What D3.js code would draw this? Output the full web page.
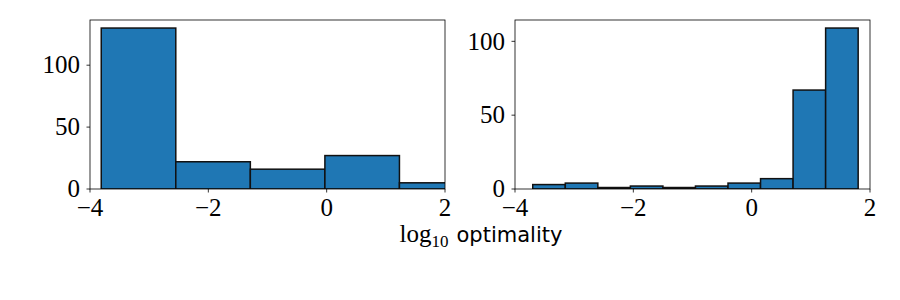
<!DOCTYPE html>
<html><head><meta charset="utf-8">
<script src="https://cdn.jsdelivr.net/npm/d3@7"></script>
<style>body{margin:0;background:#fff}svg{display:block}</style>
</head><body>
<script>
const leftEdges = [-3.81, -2.55, -1.29, -0.03, 1.23, 2.49];
const leftCounts = [130, 22, 16, 27, 5];
const rightEdges = [-3.70, -3.15, -2.60, -2.05, -1.50, -0.95, -0.40, 0.15, 0.70, 1.25, 1.80];
const rightCounts = [3, 4, 1, 2, 1, 2, 4, 7, 67, 109];
const xTicks = [-4, -2, 0, 2];
const yTicks = [0, 50, 100];
const xLabelMain = "log";
const xLabelSub = "10";
const xLabelWord = "optimality";

const svg = d3.select("body").append("svg").attr("width", 900).attr("height", 300);
const serif = "'Liberation Serif', 'DejaVu Serif', serif";
const fs = 25;

function panel(id, x0, x1, y0, y1, edges, counts) {
  const x = d3.scaleLinear().domain([-4, 2]).range([x0, x1]);
  const ymax = d3.max(counts) * 1.05;
  const y = d3.scaleLinear().domain([0, ymax]).range([y1, y0]);
  svg.append("clipPath").attr("id", id).append("rect")
    .attr("x", x0).attr("y", y0).attr("width", x1 - x0).attr("height", y1 - y0);
  const bins = counts.map((c, i) => ({a: edges[i], b: edges[i + 1], c}));
  svg.append("g").attr("clip-path", `url(#${id})`).selectAll("rect").data(bins).join("rect")
    .attr("x", d => x(d.a)).attr("width", d => x(d.b) - x(d.a))
    .attr("y", d => y(d.c)).attr("height", d => y(0) - y(d.c))
    .attr("fill", "#1f77b4").attr("stroke", "#111").attr("stroke-width", 1.5);
  svg.append("rect").attr("x", x0).attr("y", y0).attr("width", x1 - x0).attr("height", y1 - y0)
    .attr("fill", "none").attr("stroke", "#000").attr("stroke-width", 0.8);
  const gx = svg.append("g");
  xTicks.forEach(t => {
    gx.append("line").attr("x1", x(t)).attr("x2", x(t)).attr("y1", y1).attr("y2", y1 + 3.5)
      .attr("stroke", "#000").attr("stroke-width", 0.8);
    gx.append("text").attr("x", x(t)).attr("y", y1 + 27).attr("text-anchor", "middle")
      .attr("font-family", serif).attr("font-size", fs)
      .text(t < 0 ? "\u2212" + Math.abs(t) : String(t));
  });
  const gy = svg.append("g");
  yTicks.forEach(t => {
    gy.append("line").attr("x1", x0 - 3.5).attr("x2", x0).attr("y1", y(t)).attr("y2", y(t))
      .attr("stroke", "#000").attr("stroke-width", 0.8);
    gy.append("text").attr("x", x0 - 10).attr("y", y(t)).attr("dy", "0.33em").attr("text-anchor", "end")
      .attr("font-family", serif).attr("font-size", fs).text(String(t));
  });
}

panel("c1", 90, 445, 20, 189, leftEdges, leftCounts);
panel("c2", 515, 870, 20, 189, rightEdges, rightCounts);

const lab = svg.append("text").attr("x", 481).attr("y", 242).attr("text-anchor", "middle");
lab.append("tspan").attr("font-family", serif).attr("font-size", fs).text(xLabelMain);
lab.append("tspan").attr("font-family", serif).attr("font-size", 17).attr("dy", 5).text(xLabelSub);
lab.append("tspan").attr("font-family", "'DejaVu Sans', sans-serif").attr("font-size", 21).attr("dy", -5).attr("dx", 8).text(xLabelWord);
</script>
</body></html>
